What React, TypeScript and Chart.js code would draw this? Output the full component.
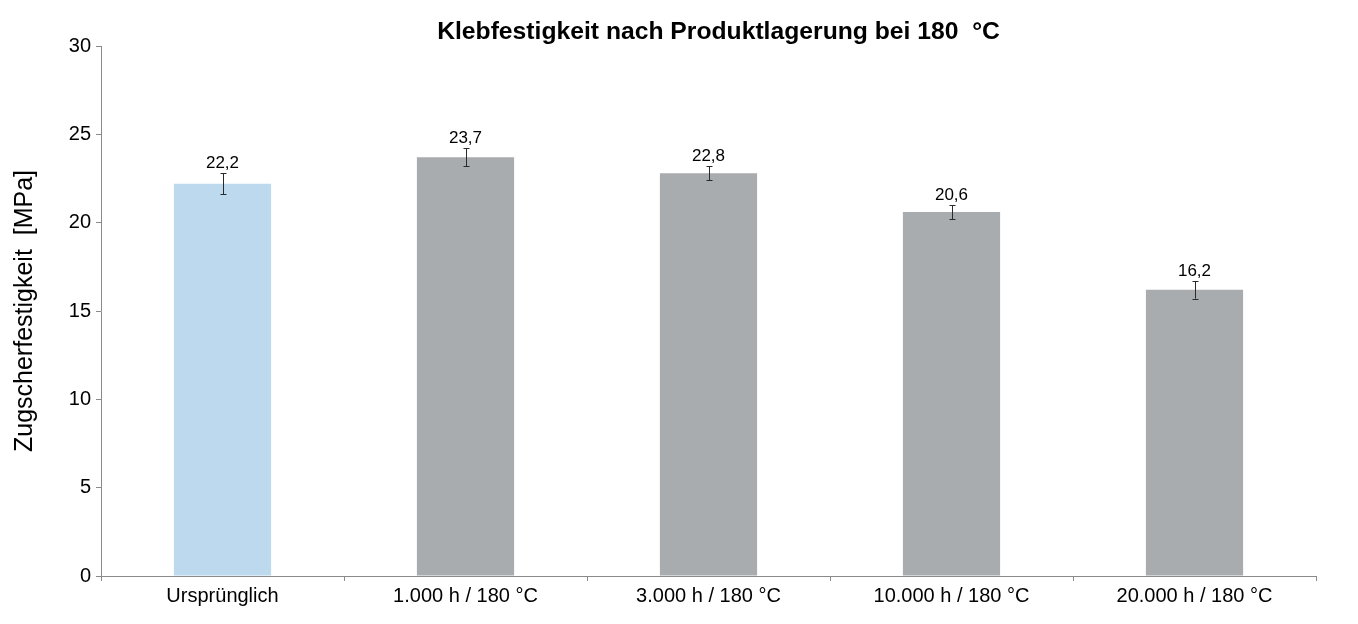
import React, { useEffect, useRef } from "react";
import { Chart, registerables } from "chart.js";

Chart.register(...registerables);

const TITLE = "Klebfestigkeit nach Produktlagerung bei 180  °C";
const Y_TITLE = "Zugscherfestigkeit  [MPa]";
const categories = [
  "Ursprünglich",
  "1.000 h / 180 °C",
  "3.000 h / 180 °C",
  "10.000 h / 180 °C",
  "20.000 h / 180 °C",
];
const values = [22.2, 23.7, 22.8, 20.6, 16.2];
const errors = [0.6, 0.5, 0.4, 0.4, 0.5];
const barColors = ["#BCD9EE", "#A9ACAF", "#A9ACAF", "#A9ACAF", "#A9ACAF"];
const Y_MIN = 0;
const Y_MAX = 30;
const Y_STEP = 5;

const FONT = "'Liberation Sans', Arial, Helvetica, sans-serif";
const AXIS_COLOR = "#8a8a8a";

const overlayPlugin = {
  id: "overlay",
  afterDatasetsDraw(chart: any) {
    const { ctx, scales } = chart;
    const meta = chart.getDatasetMeta(0);
    const y = scales.y;
    ctx.save();
    meta.data.forEach((bar: any, i: number) => {
      const x = bar.x;
      const top = y.getPixelForValue(values[i] + errors[i]);
      const bot = y.getPixelForValue(values[i] - errors[i]);
      ctx.strokeStyle = "#2a2a2a";
      ctx.lineWidth = 1;
      ctx.beginPath();
      const xx = Math.round(x) + 0.5;
      ctx.moveTo(xx, top);
      ctx.lineTo(xx, bot);
      ctx.moveTo(xx - 3, Math.round(top) + 0.5);
      ctx.lineTo(xx + 3, Math.round(top) + 0.5);
      ctx.moveTo(xx - 3, Math.round(bot) + 0.5);
      ctx.lineTo(xx + 3, Math.round(bot) + 0.5);
      ctx.stroke();
      ctx.fillStyle = "#000";
      ctx.font = `17px ${FONT}`;
      ctx.textAlign = "center";
      ctx.textBaseline = "alphabetic";
      ctx.fillText(values[i].toFixed(1).replace(".", ","), x, top - 5);
    });
    ctx.restore();
  },
  afterDraw(chart: any) {
    const { ctx, chartArea } = chart;
    ctx.save();
    ctx.fillStyle = "#000";
    ctx.font = `bold 24.7px ${FONT}`;
    ctx.textAlign = "center";
    ctx.textBaseline = "alphabetic";
    ctx.fillText(TITLE, (chartArea.left + chartArea.right) / 2 + 10, 39);
    ctx.restore();
  },
};

export default function App() {
  const ref = useRef<HTMLCanvasElement>(null);
  useEffect(() => {
    if (!ref.current) return;
    const chart = new Chart(ref.current, {
      type: "bar",
      data: {
        labels: categories,
        datasets: [
          {
            data: values,
            backgroundColor: barColors,
            borderWidth: 0,
            barPercentage: 0.4,
            categoryPercentage: 1,
          },
        ],
      },
      plugins: [overlayPlugin],
      options: {
        responsive: false,
        animation: false,
        layout: { padding: { top: 46, right: 42, left: 0, bottom: 0 } },
        plugins: {
          legend: { display: false },
          title: { display: false },
          tooltip: { enabled: false },
        },
        scales: {
          x: {
            afterFit: (s: any) => {
              s.height = 48;
            },
            grid: {
              offset: true,
              drawOnChartArea: false,
              drawTicks: true,
              tickLength: 5,
              color: AXIS_COLOR,
            },
            border: { display: true, color: AXIS_COLOR, width: 1 },
            ticks: {
              color: "#000",
              padding: 3,
              font: { family: FONT, size: 20 },
              maxRotation: 0,
            },
          },
          y: {
            min: Y_MIN,
            max: Y_MAX,
            afterFit: (s: any) => {
              s.width = 101;
            },
            grid: {
              drawOnChartArea: false,
              drawTicks: true,
              tickLength: 5,
              color: AXIS_COLOR,
            },
            border: { display: true, color: AXIS_COLOR, width: 1 },
            ticks: {
              stepSize: Y_STEP,
              color: "#000",
              padding: 5,
              font: { family: FONT, size: 20 },
            },
            title: {
              display: true,
              text: Y_TITLE,
              color: "#000",
              font: { family: FONT, size: 25 },
              padding: { top: 10, bottom: 0 },
            },
          },
        },
      },
    });
    return () => chart.destroy();
  }, []);
  return (
    <div style={{ position: "fixed", left: 0, top: 0, width: 1358, height: 624, background: "#fff" }}>
      <canvas ref={ref} width={1358} height={624} />
    </div>
  );
}
